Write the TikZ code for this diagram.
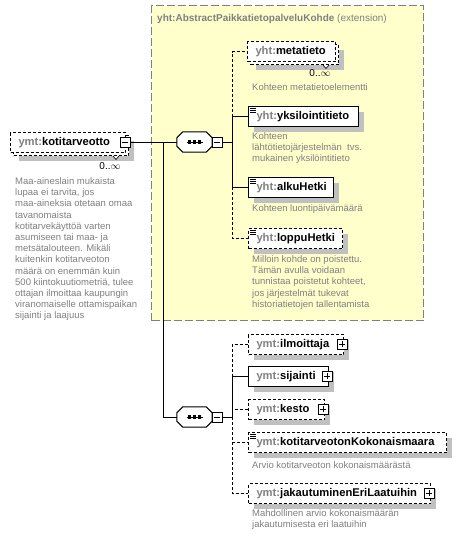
\documentclass[tikz,border=0pt]{standalone}
\usepackage{fontspec}
\setmainfont{Liberation Sans}
\usetikzlibrary{shadows}
\definecolor{pfx}{RGB}{128,128,128}
\definecolor{desccol}{RGB}{128,128,128}
\definecolor{extfill}{RGB}{255,255,204}
\definecolor{shd}{RGB}{192,192,192}
\definecolor{extborder}{RGB}{128,128,128}
\newcommand\px[1]{\textcolor{pfx}{#1}}
\newcommand\docicon[1]{\draw[line width=0.6pt] ([shift={(2pt,-2pt)}]#1.north west) -- ++(6,0) ([shift={(2pt,-4pt)}]#1.north west) -- ++(6,0) ([shift={(2pt,-6pt)}]#1.north west) -- ++(6,0);}
\newcommand\notch[1]{\filldraw[fill=white, line width=0.6pt] ([xshift=-16pt]#1.south east) -- ++(3,3.5) -- ++(3,-3.5);}
\newcommand\octopath[1]{([xshift=6pt]#1.north west) -- ([xshift=-6pt]#1.north east) -- ([yshift=-6pt]#1.north east) -- ([yshift=6pt]#1.south east) -- ([xshift=-6pt]#1.south east) -- ([xshift=6pt]#1.south west) -- ([yshift=6pt]#1.south west) -- ([yshift=-6pt]#1.north west) -- cycle}
\newcommand\seqdraw[1]{%
  \fill[shd, shift={(5pt,-5pt)}] \octopath{#1};
  \filldraw[fill=white, line width=1pt] \octopath{#1};
  \draw[line width=1pt] ([xshift=-8pt]#1.center) -- ([xshift=8pt]#1.center);
  \foreach \dx in {-5,0,5} {\fill ([shift={(\dx pt-1.7pt,1.7pt)}]#1.center) rectangle ++(3.4,3.4);}}
\begin{document}
\begin{tikzpicture}[x=1pt,y=-1pt,
  elem/.style={draw, fill=white, line width=1pt, anchor=north west, minimum height=20pt,
    inner xsep=8pt, inner ysep=0pt, text width=#1, align=left,
    font=\fontsize{11.2}{13}\selectfont\bfseries},
  opt/.style={dash pattern=on 3pt off 2pt},
  shad/.style={general shadow={fill=shd, shadow xshift=5pt, shadow yshift=-5pt}},
  desc/.style={anchor=north west, inner sep=0pt, align=left, text=desccol,
    font=\fontsize{9.5}{11.2}\selectfont},
  mult/.style={inner sep=0pt, font=\fontsize{10}{12}\selectfont},
  icon/.style={draw, fill=white, line width=0.8pt, minimum size=10pt, inner sep=0pt},
  minusicon/.style={icon, path picture={\draw[line width=0.8pt]
    ([xshift=-3pt]path picture bounding box.center) -- ([xshift=3pt]path picture bounding box.center);}},
  plusicon/.style={icon, path picture={\draw[line width=0.8pt]
    ([xshift=-3pt]path picture bounding box.center) -- ([xshift=3pt]path picture bounding box.center)
    ([yshift=-3pt]path picture bounding box.center) -- ([yshift=3pt]path picture bounding box.center);}},
  seqbox/.style={rectangle, minimum width=35pt, minimum height=20pt, inner sep=0pt},
  conn/.style={line width=1pt}
]
\useasboundingbox (0,0) rectangle (474,536);
\fill[white] (0,0) rectangle (474,536);

% extension box
\node[draw=extborder, fill=extfill, line width=1pt, dash pattern=on 8pt off 3pt,
  anchor=north west, minimum width=272pt, minimum height=315pt, inner sep=0pt] (ext) at (151,5) {};
\node[anchor=west, inner sep=0pt, text=pfx, font=\fontsize{10}{12}\selectfont] (exttitle) at (157,19)
  {\textbf{yht:AbstractPaikkatietopalveluKohde} (extension)};

% main element
\node[elem=99pt, opt, shad] (mainB) at (13,135) {};
\notch{mainB}
\node[elem=99pt, opt] (mainE) at (10,132) {\px{ymt:}kotitarveotto};
\node[minusicon] (mainI) at (125,142) {};
\node[mult] (mainM) at (110,166) {0..\(\infty\)};
\node[desc] (mainD) at (15,177.5) {Maa-aineslain mukaista\\lupaa ei tarvita, jos\\maa-aineksia otetaan omaa\\tavanomaista\\kotitarvekäyttöä varten\\asumiseen tai maa- ja\\metsätalouteen. Mikäli\\kuitenkin kotitarveoton\\määrä on enemmän kuin\\500 kiintokuutiometriä, tulee\\ottajan ilmoittaa kaupungin\\viranomaiselle ottamispaikan\\sijainti ja laajuus};

% sequence 1
\node[seqbox] (seq1) at (194.5,142) {};
\seqdraw{seq1}
\node[minusicon] (seq1I) at (217,142) {};
\coordinate (j1) at (163,142);
\coordinate (b1) at (232,142);

% children of extension
\node[elem=72pt, opt, shad] (metaB) at (250,44) {};
\notch{metaB}
\node[elem=72pt, opt] (meta) at (247,41) {\px{yht:}metatieto};
\node[mult] (metaM) at (320,73) {0..\(\infty\)};
\node[desc] (metaD) at (252,83.5) {Kohteen metatietoelementti};

\node[elem=94pt, shad] (yks) at (248,106) {\px{yht:}yksilointitieto};
\docicon{yks}
\node[desc] (yksD) at (252,132.5) {Kohteen\\lähtötietojärjestelmän\ \ tvs.\\mukainen yksilöintitieto};

\node[elem=69pt, shad] (alku) at (248,177) {\px{yht:}alkuHetki};
\docicon{alku}
\node[desc] (alkuD) at (252,204.5) {Kohteen luontipäivämäärä};

\node[elem=78pt, opt, shad] (loppu) at (248,228) {\px{yht:}loppuHetki};
\docicon{loppu}
\node[desc] (loppuD) at (252,255.5) {Milloin kohde on poistettu.\\Tämän avulla voidaan\\tunnistaa poistetut kohteet,\\jos järjestelmät tukevat\\historiatietojen tallentamista};

% sequence 2
\node[seqbox] (seq2) at (194.5,417) {};
\seqdraw{seq2}
\node[minusicon] (seq2I) at (217,417) {};
\coordinate (b2) at (232,417);

\node[elem=79pt, opt, shad] (ilm) at (248,334) {\px{ymt:}ilmoittaja};
\node[plusicon] (ilmI) at (342,344) {};
\node[elem=64pt, shad] (sij) at (248,366) {\px{ymt:}sijainti};
\node[plusicon] (sijI) at (327,376) {};
\node[elem=60pt, opt, shad] (kes) at (248,399) {\px{ymt:}kesto};
\node[plusicon] (kesI) at (323,409) {};
\node[elem=182pt, opt, shad] (kok) at (248,432) {\px{ymt:}kotitarveotonKokonaismaara};
\docicon{kok}
\node[desc] (kokD) at (252,461.5) {Arvio kotitarveoton kokonaismäärästä};
\node[elem=166pt, opt, shad] (jak) at (248,483) {\px{ymt:}jakautuminenEriLaatuihin};
\node[plusicon] (jakI) at (429,493) {};
\node[desc] (jakD) at (252,509.5) {Mahdollinen arvio kokonaismäärän\\jakautumisesta eri laatuihin};

% connectors
\draw[conn] (mainI.east) -- (seq1.west);
\draw[conn] (j1) |- (seq2.west);
\draw[conn] (seq1I.east) -- (b1);
\draw[conn] (seq2I.east) -- (b2);
\draw[conn,opt] (b1) |- (meta.west);
\draw[conn,opt] (b1) |- (loppu.west);
\draw[conn] (b1) |- (yks.west);
\draw[conn] (b1) |- (alku.west);
\draw[conn,opt] (b2) |- (ilm.west);
\draw[conn,opt] (b2) |- (kes.west);
\draw[conn,opt] (b2) |- (kok.west);
\draw[conn,opt] (b2) |- (jak.west);
\draw[conn] (b2) |- (sij.west);
\end{tikzpicture}
\end{document}
